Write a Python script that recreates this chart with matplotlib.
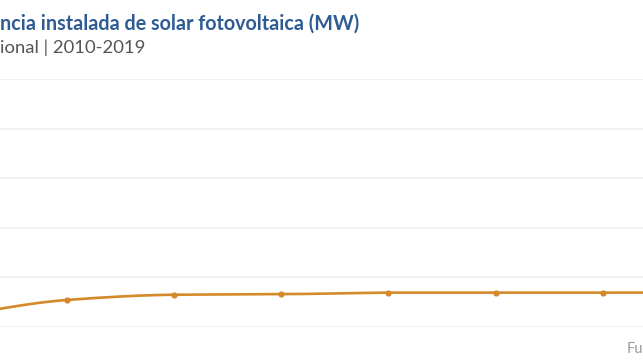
import numpy as np
import matplotlib
matplotlib.use("Agg")
import matplotlib.pyplot as plt

# ---- data ----
years = [2010, 2011, 2012, 2013, 2014, 2015, 2016, 2017]
values = [470, 1080, 1290, 1310, 1375, 1375, 1375, 1380]
yticks = [0, 2000, 4000, 6000, 8000, 10000]
title = "ncia instalada de solar fotovoltaica (MW)"
subtitle = "ional | 2010-2019"
source = "Fu"

LINE = "#d4892a"
W, H, DPI = 643, 362, 100

def pchip(x, y, xs):
    x = np.asarray(x, float); y = np.asarray(y, float)
    h = np.diff(x); d = np.diff(y) / h
    n = len(x); m = np.zeros(n)
    for k in range(1, n - 1):
        if d[k - 1] * d[k] > 0:
            w1 = 2 * h[k] + h[k - 1]; w2 = h[k] + 2 * h[k - 1]
            m[k] = (w1 + w2) / (w1 / d[k - 1] + w2 / d[k])
    m[0] = d[0]; m[-1] = d[-1]
    out = np.empty_like(xs)
    for i, xv in enumerate(xs):
        k = min(max(np.searchsorted(x, xv) - 1, 0), n - 2)
        t = (xv - x[k]) / h[k]
        h00 = 2*t**3 - 3*t**2 + 1; h10 = t**3 - 2*t**2 + t
        h01 = -2*t**3 + 3*t**2; h11 = t**3 - t**2
        out[i] = h00*y[k] + h10*h[k]*m[k] + h01*y[k+1] + h11*h[k]*m[k+1]
    return out

fig = plt.figure(figsize=(W / DPI, H / DPI), dpi=DPI)
fig.patch.set_facecolor("white")

ax = fig.add_axes([0, 1 - 326.7 / H, 1, (326.7 - 79) / H])
ax.set_facecolor("none")
for s in ax.spines.values():
    s.set_visible(False)
ax.set_yticks(yticks)
ax.set_ylim(yticks[0], yticks[-1])
px_per_year = (602.7 - 67) / 5
ax.set_xlim(2011 - 67 / px_per_year, 2011 + (W - 67) / px_per_year)
ax.tick_params(left=False, bottom=False, labelleft=False, labelbottom=False)
ax.yaxis.grid(True, color="#eeeeee", linewidth=1.2)
ax.set_axisbelow(True)

xs = np.linspace(years[0], years[-1], 600)
ax.plot(xs, pchip(years, values, xs), color=LINE, lw=1.9, solid_capstyle="round")
ax.scatter(years, values, s=20, color=LINE, zorder=3, linewidths=0)

fig.text(0, 1 - 29.5 / H, title, fontsize=14.2, fontweight="bold",
         color="#2f5b93", family="Lato", va="baseline", ha="left")
fig.text(0, 1 - 53 / H, subtitle, fontsize=13.3, color="#555555",
         family="Lato", va="baseline", ha="left")
fig.text(627 / W, 1 - 353 / H, source, fontsize=10.5, color="#9a9a9a",
         family="Lato", va="baseline", ha="left")

fig.savefig("out.png", dpi=DPI)
